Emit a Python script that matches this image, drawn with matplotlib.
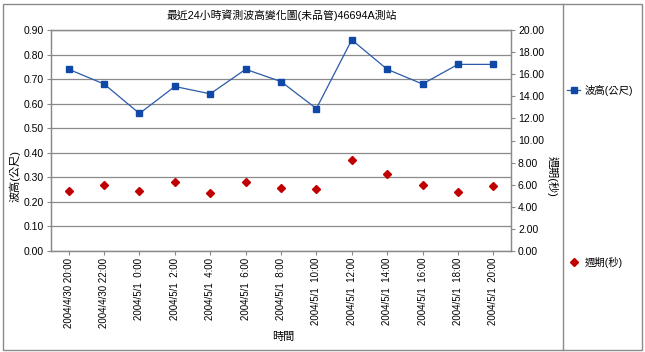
import matplotlib.pyplot as plt
from matplotlib.lines import Line2D
from matplotlib.patches import Rectangle

plt.rcParams["font.family"] = ["Liberation Sans", "Noto Sans CJK TC", "DejaVu Sans"]

# ==========================================
# 1. 資料
# ==========================================

time_labels = [
    "2004/4/30 20:00", "2004/4/30 22:00", "2004/5/1  0:00", "2004/5/1  2:00",
    "2004/5/1  4:00", "2004/5/1  6:00", "2004/5/1  8:00", "2004/5/1  10:00",
    "2004/5/1  12:00", "2004/5/1  14:00", "2004/5/1  16:00", "2004/5/1  18:00",
    "2004/5/1  20:00",
]

wave_height = [0.74, 0.68, 0.56, 0.67, 0.64, 0.74, 0.69, 0.58,
               0.86, 0.74, 0.68, 0.76, 0.76]

wave_period = [5.47, 5.98, 5.47, 6.23, 5.23, 6.23, 5.74, 5.59,
               8.25, 6.95, 5.98, 5.32, 5.89]

left_ticks = [i / 10 for i in range(10)]
right_ticks = [i * 2 for i in range(11)]

# ==========================================
# 2. 繪圖
# ==========================================

fig = plt.figure(figsize=(6.45, 3.52), dpi=100)
ax = fig.add_axes([51 / 645, 1 - 251 / 352, 460 / 645, 221 / 352])
ax2 = ax.twinx()

x = list(range(len(time_labels)))

ax.plot(x, wave_height, color="#2a5aa8", linewidth=0.9,
        marker="s", markersize=4.5, markerfacecolor="#1048a8",
        markeredgecolor="#1048a8", zorder=3)
ax2.plot(x, wave_period, linestyle="none", marker="D", markersize=3.6,
         color="#c00000", zorder=3)

ax.set_xlim(-0.5, len(x) - 0.5)
ax.set_ylim(0, 0.9)
ax2.set_ylim(0, 20)

ax.set_yticks(left_ticks)
ax.set_yticklabels([f"{v:.2f}" for v in left_ticks], fontsize=7.5)
ax2.set_yticks(right_ticks)
ax2.set_yticklabels([f"{v:.2f}" for v in right_ticks], fontsize=7.5)

ax.set_xticks(x)
ax.set_xticklabels(time_labels, rotation=90, fontsize=7)

ax.grid(axis="y", color="#8a8a8a", linewidth=0.9)
ax.set_axisbelow(True)

for a in (ax, ax2):
    for side in a.spines.values():
        side.set_color("#8a8a8a")
        side.set_linewidth(0.9)
    a.tick_params(length=3, width=0.8, color="#8a8a8a", pad=2)

ax.set_ylabel("波高(公尺)", fontsize=8, va="center")
ax.yaxis.set_label_coords(-0.078, 0.339)
ax2.set_ylabel("週期(秒)", fontsize=8, rotation=-90, va="center")
ax2.yaxis.set_label_coords(1.089, 0.339)
ax.set_xlabel("時間", fontsize=8, va="center")
ax.xaxis.set_label_coords(0.504, -0.389)

fig.text(282 / 645, 1 - 15 / 352, "最近24小時資測波高變化圖(未品管)46694A測站",
         ha="center", va="center", fontsize=7.8)

# ==========================================
# 3. 圖例與外框
# ==========================================

h1 = Line2D([], [], color="#2a5aa8", linewidth=0.9, marker="s",
            markersize=4.5, markerfacecolor="#1048a8", markeredgecolor="#1048a8")
h2 = Line2D([], [], linestyle="none", marker="D", markersize=3.6, color="#c00000")

fig.legend([h1], ["波高(公尺)"], loc="center left",
           bbox_to_anchor=(558 / 645, 1 - 90 / 352), frameon=False,
           fontsize=7.5, handlelength=1.2, handletextpad=0.5)
fig.legend([h2], ["週期(秒)"], loc="center left",
           bbox_to_anchor=(558 / 645, 1 - 262 / 352), frameon=False,
           fontsize=7.5, handlelength=1.2, handletextpad=0.5)

fig.patches.append(Rectangle((3 / 645, 2 / 352), 639 / 645, 346 / 352,
                             transform=fig.transFigure, fill=False,
                             edgecolor="#8a8a8a", linewidth=1))
fig.add_artist(Line2D([563 / 645, 563 / 645], [2 / 352, 348 / 352],
                      transform=fig.transFigure, color="#8a8a8a", linewidth=1))

fig.savefig("out.png", dpi=100)
